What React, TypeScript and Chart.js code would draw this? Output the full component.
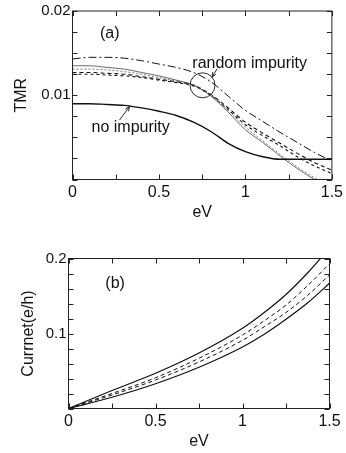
import React, { useEffect, useRef } from 'react';
import { Chart, registerables } from 'chart.js';

Chart.register(...registerables);

// ---------- Panel (a): TMR vs eV ----------
const eVa = [0, 0.1, 0.2, 0.3, 0.4, 0.5, 0.6, 0.7, 0.8, 0.9, 1.0, 1.1, 1.2, 1.3, 1.4, 1.5];
const tmrNoImpurity = [0.0090, 0.0090, 0.0089, 0.0088, 0.0085, 0.0081, 0.0076, 0.0068, 0.0057, 0.0043, 0.0033, 0.0027, 0.0024, 0.0024, 0.0024, 0.0024];
const tmrDashDot = [0.0143, 0.0145, 0.0145, 0.0144, 0.0141, 0.0137, 0.0133, 0.0127, 0.0116, 0.0099, 0.0082, 0.0069, 0.0056, 0.0044, 0.0032, 0.0022];
const tmrThinA = [0.0135, 0.0135, 0.0133, 0.0131, 0.0127, 0.0123, 0.0118, 0.0112, 0.0099, 0.0080, 0.0059, 0.0044, 0.0028, 0.0013, 0.0000, -0.0012];
const tmrThinB = [0.0131, 0.0131, 0.0130, 0.0128, 0.0125, 0.0121, 0.0117, 0.0112, 0.0100, 0.0082, 0.0062, 0.0046, 0.0030, 0.0015, 0.0002, -0.0010];
const tmrDashA = [0.0127, 0.0127, 0.0126, 0.0125, 0.0122, 0.0119, 0.0116, 0.0112, 0.0101, 0.0085, 0.0068, 0.0055, 0.0043, 0.0031, 0.0020, 0.0011];
const tmrDashB = [0.0125, 0.0125, 0.0124, 0.0123, 0.0121, 0.0118, 0.0115, 0.0111, 0.0100, 0.0083, 0.0065, 0.0052, 0.0040, 0.0027, 0.0016, 0.0007];

// ---------- Panel (b): Current vs eV ----------
const eVb = [0, 0.25, 0.5, 0.75, 1.0, 1.125, 1.25, 1.375, 1.5];
const curUpper = [0, 0.024, 0.047, 0.074, 0.107, 0.128, 0.152, 0.181, 0.214];
const curDashA = [0, 0.020, 0.041, 0.067, 0.098, 0.117, 0.138, 0.164, 0.193];
const curDashB = [0, 0.018, 0.038, 0.062, 0.091, 0.109, 0.128, 0.151, 0.178];
const curLower = [0, 0.015, 0.033, 0.055, 0.082, 0.099, 0.119, 0.141, 0.167];

// tick labels
const xLabels = [0, 0.5, 1, 1.5];
const yLabelsA = [0.01, 0.02];
const yLabelsB = [0.1, 0.2];

const FONT = '"Liberation Sans", Arial, Helvetica, sans-serif';

const pts = (xs: number[], ys: number[]) => xs.map((x, i) => ({ x, y: ys[i] }));
const near = (v: number, list: number[]) => list.some((l) => Math.abs(l - v) < 1e-9);
const fmt = (v: number) => (Math.abs(v) < 1e-12 ? '0' : String(+v.toFixed(4)));

const framePlugin = {
  id: 'frame',
  afterDraw(chart: any) {
    const { ctx, chartArea: a, scales } = chart;
    ctx.save();
    ctx.strokeStyle = '#222';
    ctx.lineWidth = 1;
    ctx.strokeRect(a.left, a.top, a.right - a.left, a.bottom - a.top);
    const L = 5;
    ctx.beginPath();
    scales.x.ticks.forEach((t: any) => {
      const p = Math.round(scales.x.getPixelForValue(t.value)) + 0.5;
      ctx.moveTo(p, a.bottom); ctx.lineTo(p, a.bottom - L);
      ctx.moveTo(p, a.top); ctx.lineTo(p, a.top + L);
    });
    scales.y.ticks.forEach((t: any) => {
      const p = Math.round(scales.y.getPixelForValue(t.value)) + 0.5;
      ctx.moveTo(a.left, p); ctx.lineTo(a.left + L, p);
      ctx.moveTo(a.right, p); ctx.lineTo(a.right - L, p);
    });
    ctx.stroke();
    ctx.restore();
  },
};

type Annot = {
  texts?: { x: number; y: number; text: string; align?: CanvasTextAlign }[];
  circles?: { x: number; y: number; r: number }[];
  arrows?: { x1: number; y1: number; x2: number; y2: number }[];
};

const annotPlugin = {
  id: 'annot',
  afterDraw(chart: any, _args: any, opts: Annot) {
    const { ctx, scales } = chart;
    const X = (v: number) => scales.x.getPixelForValue(v);
    const Y = (v: number) => scales.y.getPixelForValue(v);
    ctx.save();
    ctx.fillStyle = '#111';
    ctx.strokeStyle = '#111';
    ctx.lineWidth = 0.9;
    ctx.font = `16px ${FONT}`;
    ctx.textBaseline = 'middle';
    (opts.texts || []).forEach((t) => {
      ctx.textAlign = t.align || 'left';
      ctx.fillText(t.text, X(t.x), Y(t.y));
    });
    (opts.circles || []).forEach((c) => {
      ctx.beginPath();
      ctx.arc(X(c.x), Y(c.y), c.r, 0, Math.PI * 2);
      ctx.stroke();
    });
    (opts.arrows || []).forEach((ar) => {
      const x1 = X(ar.x1), y1 = Y(ar.y1), x2 = X(ar.x2), y2 = Y(ar.y2);
      ctx.beginPath();
      ctx.moveTo(x1, y1); ctx.lineTo(x2, y2); ctx.stroke();
      const ang = Math.atan2(y2 - y1, x2 - x1);
      const h = 5;
      ctx.beginPath();
      ctx.moveTo(x2 - h * Math.cos(ang - 0.4), y2 - h * Math.sin(ang - 0.4));
      ctx.lineTo(x2, y2);
      ctx.lineTo(x2 - h * Math.cos(ang + 0.4), y2 - h * Math.sin(ang + 0.4));
      ctx.stroke();
    });
    ctx.restore();
  },
};

const line = (data: any[], opt: any) => ({
  data,
  borderColor: '#111',
  borderWidth: 1.2,
  pointRadius: 0,
  fill: false,
  cubicInterpolationMode: 'monotone',
  ...opt,
});

function makeOptions(p: {
  padTop: number; padRight: number; yWidth: number; xHeight: number;
  yMax: number; yStep: number; yLabels: number[]; yTitle: string; yTitlePad: number; xTitlePad: number;
  annot: Annot;
}) {
  return {
    responsive: false,
    animation: false,
    layout: { padding: { top: p.padTop, right: p.padRight, left: 0, bottom: 0 } },
    plugins: { legend: { display: false }, tooltip: { enabled: false }, annot: p.annot },
    scales: {
      x: {
        type: 'linear',
        min: 0, max: 1.5,
        grid: { display: false, drawTicks: false },
        border: { display: false },
        ticks: {
          stepSize: 0.25, autoSkip: false, maxRotation: 0, padding: 3,
          color: '#111', font: { family: FONT, size: 16 },
          callback: (v: number) => (near(v, xLabels) ? fmt(v) : ''),
        },
        title: { display: true, text: 'eV', color: '#111', font: { family: FONT, size: 16 }, padding: { top: 0, bottom: p.xTitlePad } },
        afterFit: (s: any) => { s.height = p.xHeight; },
      },
      y: {
        type: 'linear',
        min: 0, max: p.yMax,
        grid: { display: false, drawTicks: false },
        border: { display: false },
        ticks: {
          stepSize: p.yStep, autoSkip: false, padding: 2,
          color: '#111', font: { family: FONT, size: 15 },
          callback: (v: number) => (near(v, p.yLabels) ? fmt(v) : ''),
        },
        title: { display: true, text: p.yTitle, color: '#111', font: { family: FONT, size: 16 }, padding: { top: p.yTitlePad, bottom: 0 } },
        afterFit: (s: any) => { s.width = p.yWidth; },
      },
    },
  };
}

function ChartCanvas({ config, width, height, top }: { config: any; width: number; height: number; top: number }) {
  const ref = useRef<HTMLCanvasElement | null>(null);
  useEffect(() => {
    if (!ref.current) return;
    const c = new Chart(ref.current, { ...config, plugins: [framePlugin, annotPlugin] });
    return () => c.destroy();
  }, []);
  return (
    <canvas ref={ref} width={width} height={height}
      style={{ position: 'absolute', left: 0, top, width, height }} />
  );
}

export default function App() {
  const configA = {
    type: 'line',
    data: {
      datasets: [
        line(pts(eVa, tmrNoImpurity), { borderWidth: 1.4 }),
        line(pts(eVa, tmrDashDot), { borderWidth: 1, borderDash: [8, 3, 2, 3] }),
        line(pts(eVa, tmrThinA), { borderWidth: 0.8, borderColor: '#444' }),
        line(pts(eVa, tmrThinB), { borderWidth: 0.8, borderColor: '#555', borderDash: [2, 2] }),
        line(pts(eVa, tmrDashA), { borderWidth: 1.1, borderDash: [4, 3] }),
        line(pts(eVa, tmrDashB), { borderWidth: 1.1, borderDash: [3, 3] }),
      ],
    },
    options: makeOptions({
      padTop: 10.5, padRight: 12.5, yWidth: 72.5, xHeight: 46.5,
      yMax: 0.02, yStep: 0.0025, yLabels: yLabelsA, yTitle: 'TMR', yTitlePad: 12, xTitlePad: 3.4,
      annot: {
        texts: [
          { x: 0.215, y: 0.0173, text: '(a)', align: 'center' },
          { x: 0.693, y: 0.01376, text: 'random impurity' },
          { x: 0.110, y: 0.00612, text: 'no impurity' },
        ],
        circles: [{ x: 0.752, y: 0.01118, r: 12.5 }],
        arrows: [
          { x1: 0.836, y1: 0.01314, x2: 0.807, y2: 0.01215 },
          { x1: 0.272, y1: 0.00706, x2: 0.330, y2: 0.00867 },
        ],
      },
    }),
  };

  const configB = {
    type: 'line',
    data: {
      datasets: [
        line(pts(eVb, curUpper), { borderWidth: 1.2 }),
        line(pts(eVb, curDashA), { borderWidth: 1, borderDash: [4, 3] }),
        line(pts(eVb, curDashB), { borderWidth: 1, borderDash: [4, 3] }),
        line(pts(eVb, curLower), { borderWidth: 1.2 }),
      ],
    },
    options: makeOptions({
      padTop: 32.5, padRight: 16.5, yWidth: 68.5, xHeight: 44.5,
      yMax: 0.2, yStep: 0.02, yLabels: yLabelsB, yTitle: 'Currnet(e/h)', yTitlePad: 19.4, xTitlePad: 1.7,
      annot: {
        texts: [{ x: 0.268, y: 0.167, text: '(b)', align: 'center' }],
      },
    }),
  };

  return (
    <div style={{ position: 'fixed', left: 0, top: 0, width: 346, height: 453, background: '#fff' }}>
      <ChartCanvas config={configA} width={346} height={226} top={0} />
      <ChartCanvas config={configB} width={346} height={227} top={226} />
    </div>
  );
}
